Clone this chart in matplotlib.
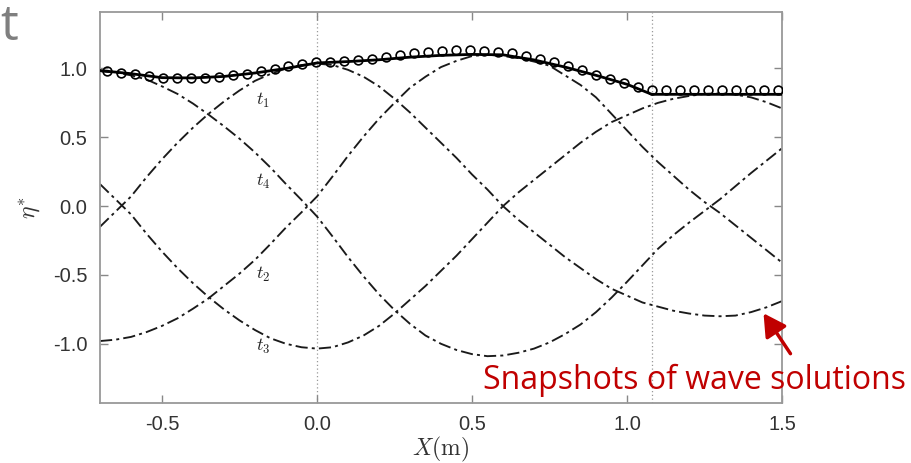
import matplotlib
matplotlib.use("Agg")
import matplotlib.pyplot as plt
from matplotlib.patches import FancyArrowPatch

plt.rcParams['axes.unicode_minus'] = False
plt.rcParams['mathtext.fontset'] = 'cm'

# ---------------- data ----------------
grid_x = [-0.70, -0.65, -0.60, -0.55, -0.50, -0.45, -0.40, -0.35, -0.30, -0.25,
          -0.20, -0.15, -0.10, -0.05, 0.00, 0.05, 0.10, 0.15, 0.20, 0.25,
          0.30, 0.35, 0.40, 0.45, 0.50, 0.55, 0.60, 0.65, 0.70, 0.75,
          0.80, 0.85, 0.90, 0.95, 1.00, 1.05, 1.10, 1.15, 1.20, 1.25,
          1.30, 1.35, 1.40, 1.45, 1.50]

curve_p = [0.16, 0.05, -0.06, -0.20, -0.33, -0.45, -0.56, -0.66, -0.75, -0.83,
           -0.90, -0.96, -1.00, -1.025, -1.035, -1.025, -0.99, -0.94, -0.87, -0.78,
           -0.68, -0.58, -0.47, -0.36, -0.24, -0.12, 0.00, 0.10, 0.19, 0.28,
           0.37, 0.46, 0.54, 0.61, 0.66, 0.71, 0.75, 0.78, 0.80, 0.815,
           0.82, 0.81, 0.79, 0.755, 0.71]
curve_s = [-0.15, -0.04, 0.07, 0.21, 0.34, 0.46, 0.57, 0.67, 0.76, 0.84,
           0.91, 0.96, 1.00, 1.025, 1.035, 1.025, 0.99, 0.94, 0.87, 0.78,
           0.68, 0.57, 0.46, 0.35, 0.23, 0.12, 0.00, -0.10, -0.19, -0.28,
           -0.37, -0.45, -0.53, -0.60, -0.65, -0.70, -0.73, -0.76, -0.78, -0.795,
           -0.80, -0.795, -0.77, -0.735, -0.69]
curve_q = [-0.98, -0.97, -0.95, -0.915, -0.87, -0.815, -0.745, -0.67, -0.58, -0.49,
           -0.39, -0.275, -0.155, -0.045, 0.07, 0.215, 0.365, 0.505, 0.635, 0.75,
           0.86, 0.94, 1.01, 1.055, 1.09, 1.10, 1.09, 1.075, 1.05, 1.02,
           0.95, 0.88, 0.79, 0.67, 0.55, 0.43, 0.32, 0.22, 0.12, 0.03,
           -0.05, -0.14, -0.23, -0.32, -0.41]
curve_r = [0.98, 0.97, 0.95, 0.92, 0.87, 0.815, 0.745, 0.665, 0.58, 0.49,
           0.39, 0.28, 0.16, 0.045, -0.075, -0.22, -0.37, -0.51, -0.64, -0.755,
           -0.855, -0.94, -1.00, -1.045, -1.075, -1.09, -1.085, -1.065, -1.035, -0.99,
           -0.93, -0.86, -0.77, -0.665, -0.55, -0.43, -0.31, -0.21, -0.12, -0.035,
           0.05, 0.145, 0.24, 0.33, 0.42]

env_x = [-0.7, -0.6, -0.5, -0.4, -0.3, -0.2, -0.1, 0.0, 0.1, 0.2, 0.3, 0.4, 0.5,
         0.6, 0.7, 0.8, 0.9, 1.0, 1.08, 1.2, 1.3, 1.4, 1.5]
env_y = [0.985, 0.962, 0.933, 0.931, 0.942, 0.967, 1.000, 1.040, 1.050, 1.063, 1.082, 1.095, 1.102,
         1.099, 1.062, 1.010, 0.950, 0.885, 0.812, 0.812, 0.812, 0.812, 0.812]

meas_x = [-0.678, -0.633, -0.588, -0.543, -0.498, -0.453, -0.407, -0.362, -0.317, -0.272,
          -0.227, -0.182, -0.137, -0.092, -0.047, -0.002, 0.043, 0.088, 0.133, 0.179,
          0.224, 0.269, 0.314, 0.359, 0.404, 0.449, 0.494, 0.539, 0.584, 0.629,
          0.674, 0.719, 0.765, 0.810, 0.855, 0.900, 0.945, 0.990, 1.035, 1.080,
          1.125, 1.170, 1.215, 1.260, 1.306, 1.351, 1.396, 1.441, 1.486]
meas_y = [0.984, 0.970, 0.958, 0.943, 0.933, 0.930, 0.930, 0.932, 0.939, 0.950,
          0.963, 0.979, 0.997, 1.017, 1.034, 1.048, 1.050, 1.057, 1.062, 1.072,
          1.084, 1.101, 1.113, 1.122, 1.130, 1.135, 1.135, 1.130, 1.122, 1.110,
          1.093, 1.072, 1.047, 1.018, 0.987, 0.953, 0.924, 0.892, 0.863, 0.841,
          0.841, 0.841, 0.841, 0.841, 0.841, 0.841, 0.841, 0.841, 0.841]

gauge_x = [0.0, 1.08]

labels = ['$t_1$', '$t_4$', '$t_2$', '$t_3$']
label_x = [-0.175, -0.175, -0.175, -0.175]
label_y = [0.77, 0.18, -0.50, -1.02]

x_ticks = [-0.5, 0.0, 0.5, 1.0, 1.5]
y_ticks = [-1.0, -0.5, 0.0, 0.5, 1.0]

# ---------------- figure ----------------
W, H = 912, 463
fig = plt.figure(figsize=(W / 100, H / 100), dpi=100)
ax = fig.add_axes([100 / W, (H - 403) / H, 682 / W, 391 / H])

ax.set_xlim(-0.7, 1.5)
ax.set_ylim(-1.43, 1.41)

for gx in gauge_x:
    ax.axvline(gx, color='#999999', lw=0.9, ls=(0, (1, 2)), zorder=1)

dd = (0, (6.5, 2.2, 1.6, 2.2))
for c in (curve_p, curve_s, curve_q, curve_r):
    ax.plot(grid_x, c, color='#1a1a1a', lw=1.35, ls=dd, zorder=2)

ax.plot(env_x, env_y, color='black', lw=2.0, zorder=3)
ax.plot(meas_x, meas_y, ls='none', marker='o', ms=6.3, mfc='none', mec='black',
        mew=1.2, zorder=4)

for t, lx, ly in zip(labels, label_x, label_y):
    ax.text(lx, ly, t, fontsize=13, ha='center', va='center', color='#222222')

ax.set_xticks(x_ticks)
ax.set_yticks(y_ticks)
ax.set_xticklabels([f"{v:.1f}" for v in x_ticks])
ax.set_yticklabels([f"{v:.1f}" for v in y_ticks])
ax.tick_params(direction='in', length=6, width=1.0, color='#888888', labelsize=14.5,
               labelcolor='#333333', top=True, right=True, pad=9)
for lab in ax.get_xticklabels() + ax.get_yticklabels():
    lab.set_fontfamily('Liberation Sans')
for sp in ax.spines.values():
    sp.set_color('#999999')
    sp.set_linewidth(1.3)

ax.set_xlabel(r'$X(\mathrm{m})$', fontsize=17, color='#333333', labelpad=0)
ax.set_ylabel(r'$\eta^{*}$', fontsize=17, color='#333333', labelpad=7)

# slide decorations
fig.text(0, 1 - 40 / H, 't', fontsize=36, color='#7f7f7f', ha='left',
         va='baseline', family='Open Sans')

red = '#C00000'
txt = fig.text(483 / W, 1 - 389 / H, 'Snapshots of wave solutions', fontsize=22,
               color=red, ha='left', va='baseline', family='Open Sans')
fig.canvas.draw()
w = txt.get_window_extent(fig.canvas.get_renderer()).width
txt.set_fontsize(22 * 422 / w)

arr = FancyArrowPatch((792 / W, 1 - 356 / H), (762 / W, 1 - 311 / H),
                      transform=fig.transFigure, arrowstyle='-|>,head_length=9,head_width=5',
                      color=red, lw=2.5, mutation_scale=1.5)
fig.patches.append(arr)

fig.savefig('out.png', dpi=100)
